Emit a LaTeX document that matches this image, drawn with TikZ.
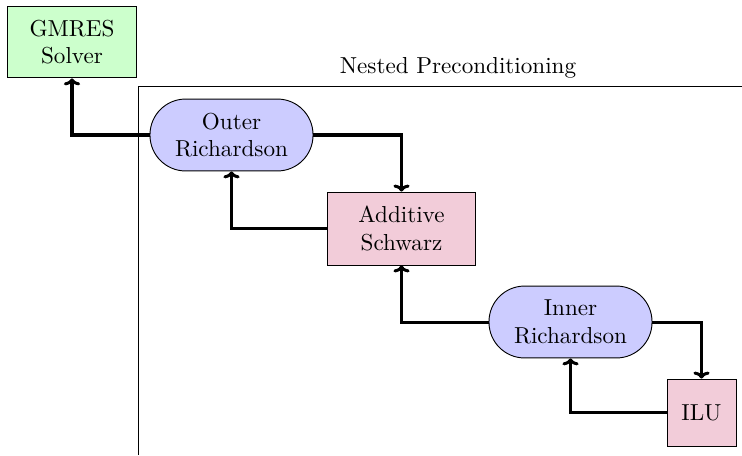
\documentclass[tikz,border=0pt]{standalone}
\usetikzlibrary{arrows.meta}
\begin{document}
\begin{tikzpicture}[x=0.4325pt,y=-0.4325pt,
  boxnode/.style={draw, line width=0.4pt, align=center, inner sep=0pt},
  solvernode/.style={boxnode, fill=green!20, minimum width=55.4pt, minimum height=31.1pt},
  richnode/.style={boxnode, fill=blue!20, rounded corners=15.4pt, minimum width=70.5pt, minimum height=31.1pt},
  pcnode/.style={boxnode, fill=purple!20},
  flow/.style={line width=1.3pt, -{To[length=3pt,width=7pt,line width=1.3pt]}}
]
\useasboundingbox (0,0) rectangle (742,455);
% frame
\coordinate (fb) at (138,455);
\coordinate (fc) at (138,86);
\coordinate (fr) at (742,86);
\draw[line width=0.4pt] (fb) -- (fc) -- (fr);
\node (lbl) at (458,68) {Nested Preconditioning};
% nodes
\node[solvernode] (gmres) at (72,42) {GMRES\\Solver};
\node[richnode] (outer) at (231.5,135) {Outer\\Richardson};
\node[pcnode, minimum width=64pt, minimum height=31.6pt] (asm) at (401.5,228.5) {Additive\\Schwarz};
\node[richnode] (inner) at (570.5,322) {Inner\\Richardson};
\node[pcnode, minimum width=29.8pt, minimum height=29pt] (ilu) at (701.5,412.5) {ILU};
% connectors
\draw[flow] (outer.west) -| (gmres.south);
\draw[flow] (outer.east) -| (asm.north);
\draw[flow] (asm.west) -| (outer.south);
\draw[flow] (inner.west) -| (asm.south);
\draw[flow] (inner.east) -| (ilu.north);
\draw[flow] (ilu.west) -| (inner.south);
\end{tikzpicture}
\end{document}
